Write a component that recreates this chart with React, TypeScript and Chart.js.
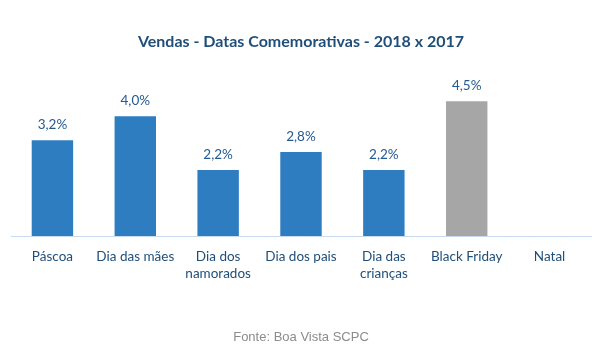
import React, { useEffect, useRef } from "react";
import { Chart, registerables } from "chart.js";

Chart.register(...registerables);

const categories: (string | string[])[] = [
  "Páscoa",
  "Dia das mães",
  ["Dia dos", "namorados"],
  "Dia dos pais",
  ["Dia das", "crianças"],
  "Black Friday",
  "Natal",
];
const values: (number | null)[] = [3.2, 4.0, 2.2, 2.8, 2.2, 4.5, null];
const barColors = ["#2E7DC1", "#2E7DC1", "#2E7DC1", "#2E7DC1", "#2E7DC1", "#A6A6A6", "#2E7DC1"];
const titleText = "Vendas - Datas Comemorativas - 2018 x 2017";
const sourceText = "Fonte: Boa Vista SCPC";

const valueLabels = {
  id: "valueLabels",
  afterDatasetsDraw(chart: any) {
    const ctx = chart.ctx;
    const meta = chart.getDatasetMeta(0);
    ctx.save();
    ctx.font = "13.5px Lato";
    ctx.fillStyle = "#245A92";
    ctx.textAlign = "center";
    ctx.textBaseline = "bottom";
    meta.data.forEach((el: any, i: number) => {
      const v = values[i];
      if (v === null || v === undefined) return;
      ctx.fillText(v.toFixed(1).replace(".", ",") + "%", el.x, el.y - 9);
    });
    ctx.restore();
  },
};

export default function App() {
  const ref = useRef<HTMLCanvasElement | null>(null);
  useEffect(() => {
    if (!ref.current) return;
    const chart = new Chart(ref.current, {
      type: "bar",
      data: {
        labels: categories,
        datasets: [
          {
            data: values,
            backgroundColor: barColors,
            barPercentage: 1,
            categoryPercentage: 0.5,
          },
        ],
      },
      options: {
        animation: false,
        responsive: false,
        layout: { padding: { left: 11, right: 8, top: 0, bottom: 4 } },
        plugins: {
          legend: { display: false },
          tooltip: { enabled: false },
          title: {
            display: true,
            text: titleText,
            color: "#1F4E79",
            font: { family: "Lato", size: 16, weight: "bold" },
            padding: { top: 32, bottom: 35 },
          },
          subtitle: {
            display: true,
            position: "bottom",
            text: sourceText,
            color: "#8C8C8C",
            font: { family: "Liberation Sans", size: 13, weight: "normal" },
            padding: { top: 35, bottom: 8 },
          },
        },
        scales: {
          x: {
            grid: { display: false, drawTicks: false },
            border: { display: true, color: "#C9DCEF", width: 1 },
            ticks: {
              color: "#1F4E79",
              font: { family: "Lato", size: 13.5 },
              padding: 13,
              maxRotation: 0,
              autoSkip: false,
            },
          },
          y: {
            display: false,
            min: 0,
            max: 5,
          },
        },
      },
      plugins: [valueLabels],
    });
    return () => chart.destroy();
  }, []);
  return (
    <div style={{ position: "fixed", left: 0, top: 0, width: 599, height: 357, background: "#fff" }}>
      <canvas ref={ref} width={599} height={357} style={{ width: 599, height: 357 }} />
    </div>
  );
}
